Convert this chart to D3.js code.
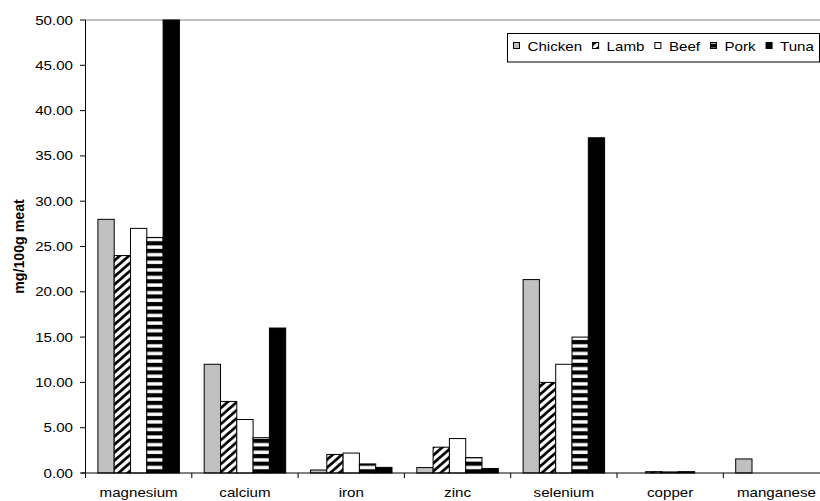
<!DOCTYPE html>
<html>
<head>
<meta charset="utf-8">
<script src="https://d3js.org/d3.v7.min.js"></script>
<style>
html,body{margin:0;padding:0;background:#fff;}
svg{display:block;}
text{font-family:"Liberation Sans",Arial,sans-serif;fill:#000;}
</style>
</head>
<body>
<svg id="chart" width="820" height="501"></svg>
<script>
const categories = ["magnesium","calcium","iron","zinc","selenium","copper","manganese"];
const series = ["Chicken","Lamb","Beef","Pork","Tuna"];
const chicken = [28.0, 12.0, 0.33, 0.6, 21.35, 0, 1.55];
const lamb    = [24.0, 7.9, 2.05, 2.85, 10.0, 0.15, 0];
const beef    = [27.0, 5.9, 2.2, 3.8, 12.0, 0.12, 0];
const pork    = [26.0, 3.9, 1.0, 1.7, 15.0, 0.15, 0];
const tuna    = [50.0, 16.0, 0.62, 0.5, 37.0, 0, 0];
const yTicks  = [0,5,10,15,20,25,30,35,40,45,50];
const yTitle  = "mg/100g meat";

(function(){
const values = {Chicken: chicken, Lamb: lamb, Beef: beef, Pork: pork, Tuna: tuna};
const fills = {Chicken:"#c0c0c0", Lamb:"url(#pLamb)", Beef:"#ffffff", Pork:"url(#pPork)", Tuna:"#000000"};
const SX = 1.2;
const FS = 12.6;

const svg = d3.select("#chart");
const defs = svg.append("defs");

const pl = defs.append("pattern").attr("id","pLamb").attr("patternUnits","userSpaceOnUse")
  .attr("width",8).attr("height",8).attr("patternTransform","scale(1.15,1)");
pl.append("rect").attr("width",8).attr("height",8).attr("fill","#fff");
pl.append("path").attr("d","M-2,10 L10,-2 M-6,6 L6,-6 M2,14 L14,2")
  .attr("stroke","#000").attr("stroke-width",2.6);
const pp = defs.append("pattern").attr("id","pPork").attr("patternUnits","userSpaceOnUse")
  .attr("width",8).attr("height",7.6);
pp.append("rect").attr("width",8).attr("height",7.6).attr("fill","#000");
pp.append("rect").attr("y",2.2).attr("width",8).attr("height",3.4).attr("fill","#fff");

const pLeft = 85.5, pTop = 20, pBottom = 473;
const bandW = 106.3;
const x0 = d3.scaleBand().domain(categories).range([pLeft, pLeft + bandW*categories.length]);
const x1 = d3.scaleBand().domain(series).range([12.4, x0.bandwidth()-12.4]);
const y = d3.scaleLinear().domain([0,50]).range([pBottom, pTop]);

svg.append("line").attr("x1",pLeft).attr("x2",830).attr("y1",y(50)).attr("y2",y(50))
  .attr("stroke","#808080").attr("stroke-width",1);

const g = svg.append("g");
categories.forEach((c,i)=>{
  series.forEach(s=>{
    const v = values[s][i];
    if(!(v>0)) return;
    g.append("rect")
      .attr("x", x0(c)+x1(s))
      .attr("y", y(v))
      .attr("width", x1.bandwidth())
      .attr("height", y(0)-y(v))
      .attr("fill", fills[s])
      .attr("stroke","#000").attr("stroke-width",1);
  });
});

const yAxis = svg.append("g");
yAxis.append("line").attr("x1",pLeft).attr("x2",pLeft).attr("y1",pTop).attr("y2",pBottom+5).attr("stroke","#000");
yTicks.forEach(t=>{
  yAxis.append("line").attr("x1",pLeft-5.5).attr("x2",pLeft).attr("y1",y(t)).attr("y2",y(t)).attr("stroke","#000");
  yAxis.append("text").attr("transform",`translate(73,${y(t)+4.5}) scale(${SX},1)`)
    .attr("text-anchor","end").attr("font-size",FS).text(d3.format(".2f")(t));
});
const xAxis = svg.append("g");
xAxis.append("line").attr("x1",pLeft-4).attr("x2",830).attr("y1",pBottom).attr("y2",pBottom).attr("stroke","#000");
categories.forEach((c,i)=>{
  const xx = x0(c);
  xAxis.append("line").attr("x1",xx).attr("x2",xx).attr("y1",pBottom).attr("y2",pBottom+5).attr("stroke","#000");
  xAxis.append("text").attr("transform",`translate(${xx+x0.bandwidth()/2},497) scale(${SX},1)`)
    .attr("text-anchor","middle").attr("font-size",FS).text(c);
});

svg.append("text").attr("transform","translate(23.5,246.5) rotate(-90)")
  .attr("text-anchor","middle").attr("font-size",14.2).attr("font-weight","bold").text(yTitle);

const lg = svg.append("g");
lg.append("rect").attr("x",507.5).attr("y",33.5).attr("width",312).attr("height",28.5)
  .attr("fill","#fff").attr("stroke","#000").attr("stroke-width",1);
let cx = 513.5;
series.forEach(s=>{
  lg.append("rect").attr("x",cx).attr("y",42.5).attr("width",6).attr("height",6)
    .attr("fill",fills[s]).attr("stroke","#000").attr("stroke-width",1);
  const tx = cx + 14;
  const t = lg.append("text").attr("transform",`translate(${tx},51) scale(${SX},1)`)
    .attr("font-size",FS).text(s);
  const w = t.node().getComputedTextLength()*SX;
  cx = tx + w + 10.5;
});
})();
</script>
</body>
</html>
